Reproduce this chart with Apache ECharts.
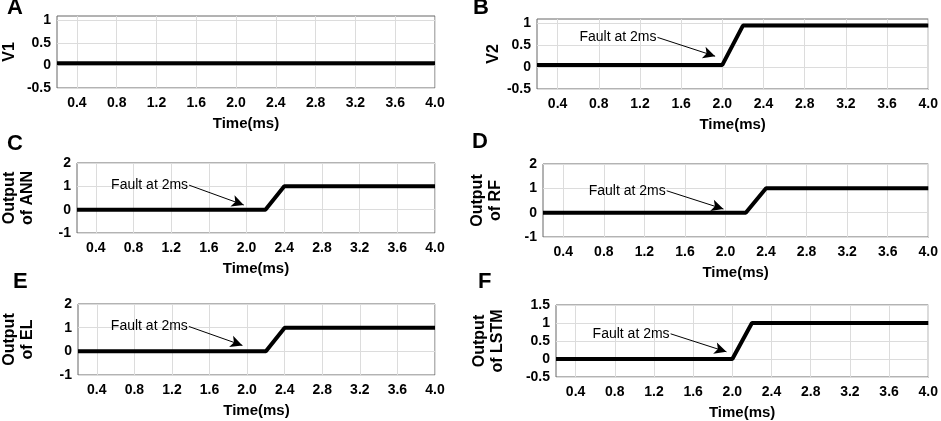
<!DOCTYPE html>
<html>
<head>
<meta charset="utf-8">
<script src="https://cdn.jsdelivr.net/npm/echarts@6/dist/echarts.min.js"></script>
<style>
  html, body { margin: 0; padding: 0; background: #fff; }
  #chart { width: 941px; height: 421px; }
</style>
</head>
<body>
<div id="chart"></div>
<script>
"use strict";

// 时间轴刻度 (ms)
const xTicks = [0.4, 0.8, 1.2, 1.6, 2.0, 2.4, 2.8, 3.2, 3.6, 4.0];

// A: V1
const timeA = [0.2, 4.0];
const v1 = [0.05, 0.05];
// B: V2
const timeB = [0.2, 2.0, 2.2, 4.0];
const v2 = [0.05, 0.05, 0.95, 0.95];
// C/D/E: ANN, RF, EL
const timeC = [0.2, 2.2, 2.4, 4.0];
const outANN = [0, 0, 1, 1];
const outRF = [0, 0, 1, 1];
const outEL = [0, 0, 1, 1];
// F: LSTM
const timeF = [0.2, 2.0, 2.2, 4.0];
const outLSTM = [0, 0, 1, 1];

// y 轴刻度
const yTicksV = [-0.5, 0, 0.5, 1];
const yTicksOut = [-1, 0, 1, 2];
const yTicksLSTM = [-0.5, 0, 0.5, 1, 1.5];

// 注释 "Fault at 2ms": [文字末端, 箭头尖]
const faultText = "Fault at 2ms";
const faultB = [[1.37, 0.68], [1.93, 0.25]];
const faultC = [[1.39, 1.05], [1.97, 0.2]];
const faultD = [[1.42, 0.9], [1.98, 0.15]];
const faultE = [[1.38, 1.05], [1.95, 0.25]];
const faultF = [[1.37, 0.7], [1.94, 0.2]];

const font = 'Arial, "Liberation Sans", sans-serif';

// 版面布局
const panels = [
  { letter: "A", lx: 7, ly: -3, grid: [52, 16, 383, 72], yName: "V1", gap: 38,
    yMin: -0.5, yMax: 1.1, yTicks: yTicksV, t: timeA, v: v1, fault: null },
  { letter: "B", lx: 473, ly: -3, grid: [537, 19, 395, 70], yName: "V2", gap: 31,
    yMin: -0.5, yMax: 1.1, yTicks: yTicksV, t: timeB, v: v2, fault: faultB },
  { letter: "C", lx: 7, ly: 133, grid: [57, 163, 378, 70], yName: "Output\nof ANN", gap: 40,
    yMin: -1, yMax: 2, yTicks: yTicksOut, t: timeC, v: outANN, fault: faultC },
  { letter: "D", lx: 472, ly: 131, grid: [543, 164, 389, 73], yName: "Output\nof RF", gap: 38,
    yMin: -1, yMax: 2, yTicks: yTicksOut, t: timeC, v: outRF, fault: faultD },
  { letter: "E", lx: 13, ly: 271, grid: [59, 304, 376, 71], yName: "Output\nof EL", gap: 41,
    yMin: -1, yMax: 2, yTicks: yTicksOut, t: timeC, v: outEL, fault: faultE },
  { letter: "F", lx: 478, ly: 271, grid: [556, 305, 376, 72], yName: "Output\nof LSTM", gap: 49,
    yMin: -0.5, yMax: 1.5, yTicks: yTicksLSTM, t: timeF, v: outLSTM, fault: faultF },
];

const gridColor = "#dcdcdc";
const tickStyle = { show: true, inside: true, length: 3, lineStyle: { color: "#555" } };
const noLine = { show: false, onZero: false };

const grid = [];
const xAxis = [];
const yAxis = [];
const series = [];
const title = [];

panels.forEach((p, i) => {
  const [left, top, width, height] = p.grid;
  grid.push({
    left, top, width, height,
    show: true, borderColor: "#666", borderWidth: 1,
  });
  title.push({
    text: p.letter, left: p.lx, top: p.ly, padding: 0,
    textStyle: { fontFamily: font, fontSize: 22, fontWeight: "bold", color: "#000" },
  });
  // 下方 x 轴
  xAxis.push({
    type: "value", gridIndex: i, min: 0.2, max: 4.0, position: "bottom",
    name: "Time(ms)", nameLocation: "middle", nameGap: 28,
    nameTextStyle: { fontFamily: font, fontSize: 15, fontWeight: "bold", color: "#000" },
    axisLine: noLine,
    axisTick: { ...tickStyle, customValues: xTicks },
    axisLabel: {
      customValues: xTicks, margin: 8,
      formatter: (val) => val.toFixed(1),
      fontFamily: font, fontSize: 14, fontWeight: "bold", color: "#000",
    },
    splitLine: { show: false },
  });
  // 上方刻度
  xAxis.push({
    type: "value", gridIndex: i, min: 0.2, max: 4.0, position: "top",
    axisLine: noLine,
    axisTick: { ...tickStyle, customValues: xTicks },
    axisLabel: { show: false },
    splitLine: { show: false },
  });
  // 左侧 y 轴
  yAxis.push({
    type: "value", gridIndex: i, min: p.yMin, max: p.yMax, position: "left",
    name: p.yName, nameLocation: "middle", nameGap: p.gap,
    nameTextStyle: { fontFamily: font, fontSize: 16, fontWeight: "bold", color: "#000", lineHeight: 18 },
    axisLine: noLine,
    axisTick: { ...tickStyle, customValues: p.yTicks },
    axisLabel: {
      customValues: p.yTicks, margin: 6,
      fontFamily: font, fontSize: 14, fontWeight: "bold", color: "#000",
    },
    splitLine: { show: false },
  });
  // 右侧刻度
  yAxis.push({
    type: "value", gridIndex: i, min: p.yMin, max: p.yMax, position: "right",
    axisLine: noLine,
    axisTick: { ...tickStyle, customValues: p.yTicks },
    axisLabel: { show: false },
    splitLine: { show: false },
  });

  // 网格线 (用 markLine 画在刻度位置, 放在曲线下面)
  series.push({
    type: "line",
    xAxisIndex: i * 2,
    yAxisIndex: i * 2,
    data: [],
    z: 1,
    silent: true,
    markLine: {
      z: 1,
      silent: true,
      animation: false,
      symbol: ["none", "none"],
      label: { show: false },
      lineStyle: { color: gridColor, width: 1, type: "solid" },
      data: [
        ...xTicks.map((x) => ({ xAxis: x })),
        ...p.yTicks.map((y) => ({ yAxis: y })),
      ],
    },
  });

  const s = {
    type: "line",
    xAxisIndex: i * 2,
    yAxisIndex: i * 2,
    data: p.t.map((t, k) => [t, p.v[k]]),
    symbol: "none",
    lineStyle: { color: "#000", width: 4 },
    z: 3,
    silent: true,
    animation: false,
  };
  if (p.fault) {
    const [textEnd, tip] = p.fault;
    s.markPoint = {
      z: 5,
      silent: true,
      symbol: "circle",
      symbolSize: 0,
      data: [{ coord: textEnd }],
      label: {
        show: true, position: "left", distance: 1,
        formatter: faultText,
        fontFamily: font, fontSize: 14, color: "#000",
      },
    };
    s.markLine = {
      z: 5,
      silent: true,
      animation: false,
      symbol: ["none", "arrow"],
      symbolSize: [9, 12],
      label: { show: false },
      lineStyle: { color: "#000", width: 1, type: "solid" },
      data: [[{ coord: textEnd }, { coord: tip }]],
    };
  }
  series.push(s);
});

const chart = echarts.init(document.getElementById("chart"));
chart.setOption({
  animation: false,
  backgroundColor: "#fff",
  title,
  grid,
  xAxis,
  yAxis,
  series,
});
</script>
</body>
</html>
